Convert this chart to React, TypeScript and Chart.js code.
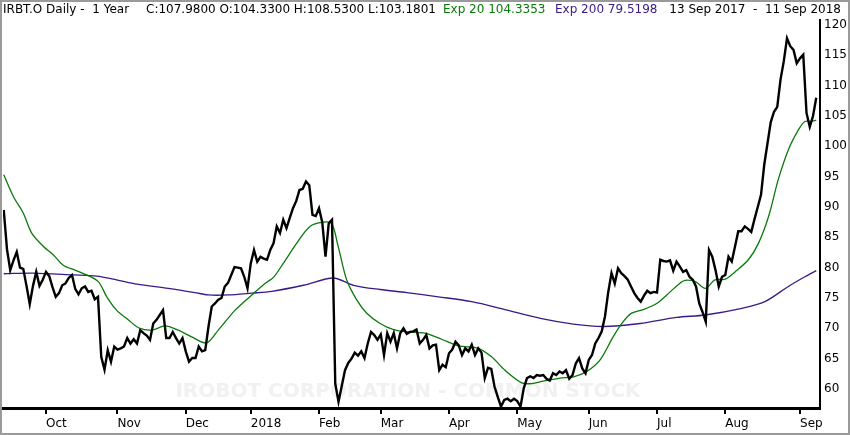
import React, { useEffect, useRef } from "react";
import { Chart, registerables } from "chart.js";

Chart.register(...registerables);

// Month tick positions (trading-day index) and labels
const monthTickIdx = [13, 35, 56, 76, 97, 116, 137, 158, 180, 201, 222, 245];
const monthTickLabels = ["Oct", "Nov", "Dec", "2018", "Feb", "Mar", "Apr", "May", "Jun", "Jul", "Aug", "Sep"];
const yTickValues = [60, 65, 70, 75, 80, 85, 90, 95, 100, 105, 110, 115, 120];

// Daily closes, 13 Sep 2017 .. 11 Sep 2018
const closes = [
  89.5, 83.0, 79.6, 81.2, 82.6, 80.0, 79.8, 77.0, 74.0, 77.0,
  79.3, 77.0, 78.0, 79.3, 78.6, 76.8, 75.2, 75.8, 77.1, 77.4,
  78.3, 78.8, 76.5, 75.6, 76.6, 76.9, 76.0, 76.2, 74.8, 75.2,
  65.3, 63.2, 66.4, 64.5, 67.0, 66.5, 66.7, 67.0, 68.4, 67.5,
  68.2, 67.5, 69.7, 69.2, 68.8, 68.1, 70.8, 71.4, 72.2, 73.0,
  68.4, 68.4, 69.4, 68.4, 67.5, 68.4, 66.2, 64.5, 65.1, 65.1,
  67.0, 66.2, 66.4, 70.3, 73.6, 74.1, 74.7, 75.0, 76.9, 77.5,
  78.8, 80.1, 80.0, 79.9, 78.5, 76.6, 80.7, 82.9, 81.0, 81.8,
  81.5, 81.3, 82.9, 84.0, 86.8, 85.7, 87.9, 86.5, 88.2, 89.8,
  91.0, 92.8, 93.0, 94.2, 93.6, 88.7, 88.5, 89.8, 87.5, 81.8,
  87.3, 87.9, 60.9, 57.9, 60.5, 63.1, 64.3, 65.0, 66.0, 65.5,
  66.2, 65.1, 67.5, 69.4, 68.9, 68.1, 69.0, 65.6, 69.2, 67.8,
  69.2, 66.7, 69.2, 70.0, 69.1, 69.4, 69.5, 69.8, 67.5, 68.1,
  68.9, 66.7, 67.2, 67.3, 63.1, 64.0, 63.6, 65.9, 66.5, 67.8,
  67.2, 65.6, 66.7, 66.2, 67.3, 65.6, 66.7, 66.0, 61.8, 63.5,
  63.3, 60.4, 58.7, 57.1, 58.2, 58.4, 58.0, 58.4, 58.0, 57.1,
  60.1, 61.8, 62.1, 61.8, 62.3, 62.2, 62.3, 61.7, 61.4, 62.6,
  62.3, 62.9, 62.6, 63.1, 61.7, 62.3, 64.2, 65.1, 63.4, 62.6,
  64.8, 65.6, 67.5, 68.4, 69.5, 72.0, 76.0, 79.1, 77.4, 79.9,
  79.1, 78.6, 78.0, 76.9, 75.8, 75.0, 74.4, 75.4, 76.2, 75.8,
  76.0, 75.9, 81.3, 81.1, 81.0, 81.2, 79.5, 81.0, 80.2, 79.3,
  79.6, 78.5, 78.0, 76.9, 74.1, 72.7, 71.1, 82.9, 81.8, 79.6,
  76.9, 78.5, 78.8, 81.8, 81.0, 83.5, 86.0, 86.0, 86.8, 86.4,
  85.9, 88.0, 90.0, 92.0, 97.0, 100.5, 104.0, 105.7, 106.5, 111.0,
  114.0, 117.8, 116.5, 115.9, 113.7, 114.5, 115.1, 105.5, 103.2, 105.0,
  108.0,
];

// Exp 20 moving average (index, value)
const ema20Idx = [0, 3, 6, 8.6, 12.2, 15.3, 18.3, 21.9, 25.5, 29.1, 31.7, 34.7, 38.3, 41.5, 45.5, 49.6, 53.7, 57.8, 62.4, 66, 71.2, 76.3, 80.4, 83, 86, 90.1, 94.2, 98.3, 100.9, 102.9, 105.5, 108.6, 111.7, 115.8, 119.9, 124.5, 129.6, 134.7, 139.9, 146, 150.1, 154.2, 159.4, 162.4, 166, 171.2, 175.3, 179.4, 183.5, 187.5, 190.6, 193.2, 196.8, 200.9, 204, 207.5, 209.6, 212.8, 215.9, 218.8, 222, 225, 229.1, 232.2, 235.3, 238.3, 241.4, 244.5, 246.5, 248.5, 250];
const ema20Vals = [95.3, 91.7, 89.0, 85.7, 83.5, 82.1, 80.4, 79.6, 78.8, 77.7, 75.2, 73.0, 71.4, 70.1, 69.7, 70.4, 69.7, 68.6, 67.6, 69.7, 73.0, 75.5, 77.4, 78.4, 80.7, 84.0, 86.8, 87.5, 87.3, 83.5, 78.0, 74.7, 72.5, 70.8, 69.8, 69.4, 69.2, 68.2, 67.1, 66.7, 65.3, 63.1, 61.0, 60.9, 61.3, 61.8, 62.0, 62.9, 64.8, 68.6, 71.1, 72.5, 73.1, 74.1, 75.5, 77.2, 77.9, 77.7, 76.6, 78.0, 78.1, 79.3, 81.3, 84.0, 88.4, 94.5, 99.4, 102.7, 104.1, 104.1, 104.3];

// Exp 200 moving average (index, value)
const ema200Idx = [0, 9, 21.4, 28.6, 34.7, 41, 50.6, 58.8, 62.9, 69.1, 76.3, 82.5, 92.2, 101.4, 107.6, 115.8, 124, 133.7, 144, 154.2, 165.5, 175.3, 184.5, 195.8, 207, 215.8, 227.1, 234.2, 241.4, 246.5, 250];
const ema200Vals = [79.0, 79.1, 78.8, 78.6, 78.0, 77.3, 76.6, 75.9, 75.5, 75.5, 75.8, 76.1, 77.1, 78.3, 77.1, 76.4, 75.9, 75.2, 74.4, 73.1, 71.6, 70.7, 70.3, 70.8, 71.8, 72.2, 73.3, 74.4, 76.9, 78.5, 79.5];

const headerParts = [
  { t: "IRBT.O Daily -  1 Year", x: 3, c: "#000000" },
  { t: "C:107.9800 O:104.3300 H:108.5300 L:103.1801", x: 146, c: "#000000" },
  { t: "Exp 20 104.3353", x: 443, c: "#0a7a0a" },
  { t: "Exp 200 79.5198", x: 555, c: "#3a1a8a" },
];
const headerRange = "13 Sep 2017  -  11 Sep 2018";
const watermarkText = "IROBOT CORPORATION - COMMON STOCK";

const FONT = "'DejaVu Sans', 'Liberation Sans', sans-serif";

const decorPlugin = {
  id: "decor",
  beforeDatasetsDraw(chart: any) {
    const ctx = chart.ctx;
    ctx.save();
    ctx.font = `bold 20px ${FONT}`;
    ctx.fillStyle = "#f1f1f1";
    ctx.textAlign = "center";
    ctx.textBaseline = "alphabetic";
    ctx.fillText(watermarkText, 408, 397);
    ctx.restore();
  },
  afterDraw(chart: any) {
    const ctx = chart.ctx;
    ctx.save();
    ctx.font = `12px ${FONT}`;
    ctx.textBaseline = "alphabetic";
    ctx.textAlign = "left";
    for (const p of headerParts) {
      ctx.fillStyle = p.c;
      ctx.fillText(p.t, p.x, 13);
    }
    ctx.fillStyle = "#000000";
    ctx.textAlign = "right";
    ctx.fillText(headerRange, 841, 13);
    ctx.strokeStyle = "#9a9a9a";
    ctx.lineWidth = 2;
    ctx.strokeRect(1, 1, chart.width - 2, chart.height - 2);
    ctx.restore();
  },
};

export default function App() {
  const canvasRef = useRef<HTMLCanvasElement | null>(null);

  useEffect(() => {
    const canvas = canvasRef.current;
    if (!canvas) return;
    const chart = new Chart(canvas, {
      type: "line",
      data: {
        datasets: [
          {
            label: "IRBT.O",
            data: closes.map((v, i) => ({ x: i, y: v })),
            borderColor: "#000000",
            borderWidth: 2.4,
            pointRadius: 0,
            tension: 0,
            fill: false,
          },
          {
            label: "Exp 20",
            data: ema20Idx.map((x, i) => ({ x, y: ema20Vals[i] })),
            borderColor: "#0a7a0a",
            borderWidth: 1.3,
            pointRadius: 0,
            tension: 0.3,
            fill: false,
          },
          {
            label: "Exp 200",
            data: ema200Idx.map((x, i) => ({ x, y: ema200Vals[i] })),
            borderColor: "#3a1a8a",
            borderWidth: 1.3,
            pointRadius: 0,
            tension: 0.3,
            fill: false,
          },
        ],
      },
      options: {
        animation: false,
        responsive: false,
        devicePixelRatio: 1,
        events: [],
        layout: { padding: { left: 3, top: 20, right: 0, bottom: 0 } },
        plugins: { legend: { display: false }, tooltip: { enabled: false } },
        scales: {
          x: {
            type: "linear",
            min: -0.23,
            max: 251.15,
            afterBuildTicks: (s: any) => {
              s.ticks = monthTickIdx.map((v) => ({ value: v }));
            },
            afterFit: (s: any) => {
              s.height = 27;
            },
            ticks: {
              autoSkip: false,
              maxRotation: 0,
              align: "start",
              padding: 3,
              color: "#000000",
              font: { family: FONT, size: 12 },
              callback: (_v: any, i: number) => monthTickLabels[i],
            },
            grid: { drawOnChartArea: false, drawTicks: true, tickLength: 6, color: "#000000", lineWidth: 2 },
            border: { display: true, color: "#000000", width: 3 },
          },
          y: {
            type: "linear",
            position: "right",
            min: 56.87,
            max: 120.82,
            afterBuildTicks: (s: any) => {
              s.ticks = yTickValues.map((v) => ({ value: v }));
            },
            afterFit: (s: any) => {
              s.width = 30;
            },
            ticks: {
              padding: 4,
              color: "#000000",
              font: { family: FONT, size: 12 },
              callback: (v: any) => String(v),
            },
            grid: { display: false, drawTicks: false },
            border: { display: true, color: "#000000", width: 2 },
          },
        },
      },
      plugins: [decorPlugin],
    } as any);
    return () => chart.destroy();
  }, []);

  return (
    <div style={{ position: "fixed", left: 0, top: 0, width: 850, height: 435, background: "#ffffff" }}>
      <canvas ref={canvasRef} width={850} height={435} style={{ display: "block", width: 850, height: 435 }} />
    </div>
  );
}
